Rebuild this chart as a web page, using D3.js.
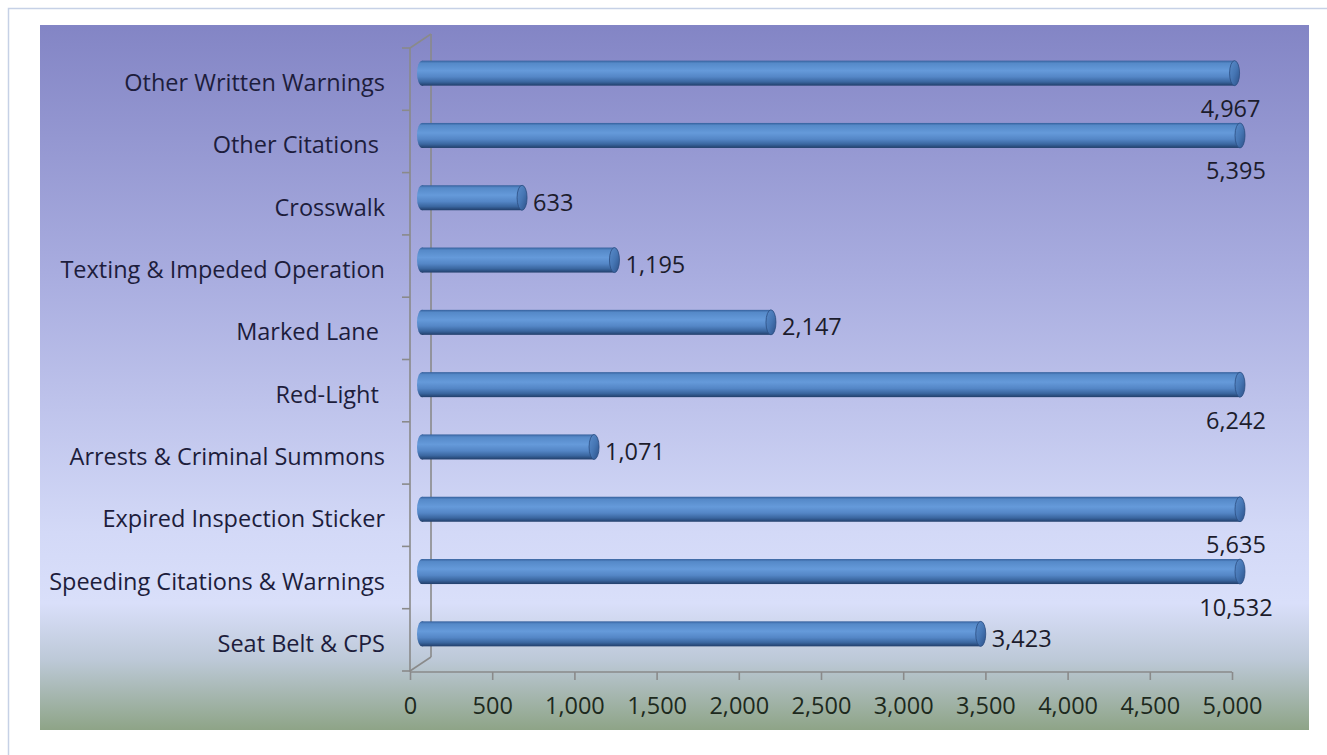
<!DOCTYPE html>
<html>
<head>
<meta charset="utf-8">
<script src="https://cdn.jsdelivr.net/npm/d3@7/dist/d3.min.js"></script>
<style>
html,body{margin:0;padding:0;background:#fff;}
svg{display:block;}
text{white-space:pre;}
</style>
</head>
<body>
<svg id="chart" width="1327" height="755" xml:space="preserve"></svg>
<script>
// Data (top to bottom as displayed)
const categories = [
  "Other Written Warnings",
  "Other Citations ",
  "Crosswalk",
  "Texting & Impeded Operation",
  "Marked Lane ",
  "Red-Light ",
  "Arrests & Criminal Summons",
  "Expired Inspection Sticker",
  "Speeding Citations & Warnings",
  "Seat Belt & CPS"
];
const values = [4967, 5395, 633, 1195, 2147, 6242, 1071, 5635, 10532, 3423];
const xTicks = [0, 500, 1000, 1500, 2000, 2500, 3000, 3500, 4000, 4500, 5000];
const xMax = 5000;

const FONT = "Open Sans, sans-serif";
const FS = 23.5;

const svg = d3.select("#chart");
const defs = svg.append("defs");

// Background gradient
const bg = defs.append("linearGradient").attr("id", "bg").attr("x1", 0).attr("y1", 0).attr("x2", 0).attr("y2", 1);
[[0, "#8385c5"], [0.35, "#a8acdf"], [0.72, "#d3d9f7"], [0.82, "#d9dffa"], [0.9, "#bdc9d8"], [1, "#8ea487"]]
  .forEach(([o, c]) => bg.append("stop").attr("offset", o).attr("stop-color", c));

// Cylinder gradient
const cyl = defs.append("linearGradient").attr("id", "cyl").attr("x1", 0).attr("y1", 0).attr("x2", 0).attr("y2", 1);
[[0, "#35609c"], [0.1, "#5589c8"], [0.4, "#659ada"], [0.65, "#5486c6"], [0.85, "#3a669f"], [1, "#213e6a"]]
  .forEach(([o, c]) => cyl.append("stop").attr("offset", o).attr("stop-color", c));
const cap = defs.append("linearGradient").attr("id", "cap").attr("x1", 0).attr("y1", 0).attr("x2", 1).attr("y2", 1);
[[0, "#5a8ccb"], [0.5, "#4676b4"], [1, "#2c5088"]]
  .forEach(([o, c]) => cap.append("stop").attr("offset", o).attr("stop-color", c));

// Outer frame
svg.append("rect").attr("x", 8.5).attr("y", 8.5).attr("width", 1340).attr("height", 760)
  .attr("fill", "none").attr("stroke", "#c6d1e6").attr("stroke-width", 1.5);

// Plot background
svg.append("rect").attr("x", 40).attr("y", 25).attr("width", 1269).attr("height", 705).attr("fill", "url(#bg)");

// Scales
const x = d3.scaleLinear().domain([0, xMax]).range([410, 1232]);
const y = d3.scaleBand().domain(categories).range([48, 671]).paddingInner(0).paddingOuter(0);

const depthX = 21, depthY = -14;
const axisColor = "#8a8a8a";

// Back wall / 3D axis lines
const g3 = svg.append("g").attr("stroke", axisColor).attr("stroke-width", 1.6).attr("fill", "none");
g3.append("line").attr("x1", x(0) + depthX).attr("x2", x(0) + depthX).attr("y1", 48 + depthY).attr("y2", 671 + depthY);
g3.append("line").attr("x1", x(0)).attr("x2", x(0) + depthX).attr("y1", 48).attr("y2", 48 + depthY);
g3.append("line").attr("x1", x(0)).attr("x2", x(0) + depthX).attr("y1", 671).attr("y2", 671 + depthY);

// Y axis (front)
const yAxisG = svg.append("g").attr("transform", `translate(${x(0)},0)`);
yAxisG.append("line").attr("x1", 0).attr("x2", 0).attr("y1", 48).attr("y2", 672).attr("stroke", axisColor).attr("stroke-width", 1.6);
const bounds = categories.map(c => y(c)).concat([y(categories[categories.length - 1]) + y.bandwidth()]);
yAxisG.selectAll("line.tk").data(bounds).join("line").attr("class", "tk")
  .attr("x1", -8).attr("x2", 0).attr("y1", d => d).attr("y2", d => d)
  .attr("stroke", axisColor).attr("stroke-width", 1.6);

// Category labels
svg.append("g").selectAll("text").data(categories).join("text")
  .attr("x", 385).attr("y", d => y(d) + y.bandwidth() / 2 + 3)
  .attr("text-anchor", "end").attr("dominant-baseline", "central")
  .attr("font-family", FONT).attr("font-size", FS)
  .attr("fill", "#1d1d3c").text(d => d);

// X axis
const xAxis = d3.axisBottom(x).tickValues(xTicks).tickSize(8).tickPadding(17)
  .tickFormat(d3.format(","));
const xg = svg.append("g").attr("transform", "translate(0,672)").call(xAxis);
xg.select(".domain").attr("stroke", axisColor).attr("stroke-width", 1.6).attr("d", `M${x(0)},0H${x(xMax)}`);
xg.selectAll(".tick line").attr("stroke", axisColor).attr("stroke-width", 1.6);
xg.selectAll(".tick text").attr("font-family", FONT).attr("font-size", FS).attr("fill", "#1d291d");

// Bars (cylinders)
const barH = 25, rx = 5, offX = 9, offY = -6;
const labelBelowFrom = 4500; // values this large leave no room for a label to the right
const bars = svg.append("g").selectAll("g").data(categories.map((c, i) => ({ c, v: values[i] }))).join("g");
bars.each(function (d) {
  const g = d3.select(this);
  const cy = y(d.c) + y.bandwidth() / 2 + offY;
  const x0 = x(0) + offX + 3;
  const x1 = x(Math.min(d.v, xMax)) + offX - 1;
  d.cy = cy; d.x1 = x1; d.below = d.v >= labelBelowFrom;
  g.append("ellipse").attr("cx", x0).attr("cy", cy).attr("rx", rx).attr("ry", barH / 2).attr("fill", "url(#cyl)");
  g.append("rect").attr("x", x0).attr("y", cy - barH / 2).attr("width", x1 - x0).attr("height", barH).attr("fill", "url(#cyl)");
  g.append("ellipse").attr("cx", x1).attr("cy", cy).attr("rx", rx).attr("ry", barH / 2)
    .attr("fill", "url(#cap)").attr("stroke", "#2b4c80").attr("stroke-width", 0.8);
});

// Value labels
svg.append("g").selectAll("text").data(bars.data()).join("text")
  .attr("x", d => d.below ? d.x1 - 4 : d.x1 + rx + 6)
  .attr("y", d => d.below ? d.cy + 35 : d.cy + 4)
  .attr("text-anchor", d => d.below ? "middle" : "start")
  .attr("dominant-baseline", "central")
  .attr("font-family", FONT).attr("font-size", FS)
  .attr("fill", "#1c1c2c").text(d => d3.format(",")(d.v));
</script>
</body>
</html>
